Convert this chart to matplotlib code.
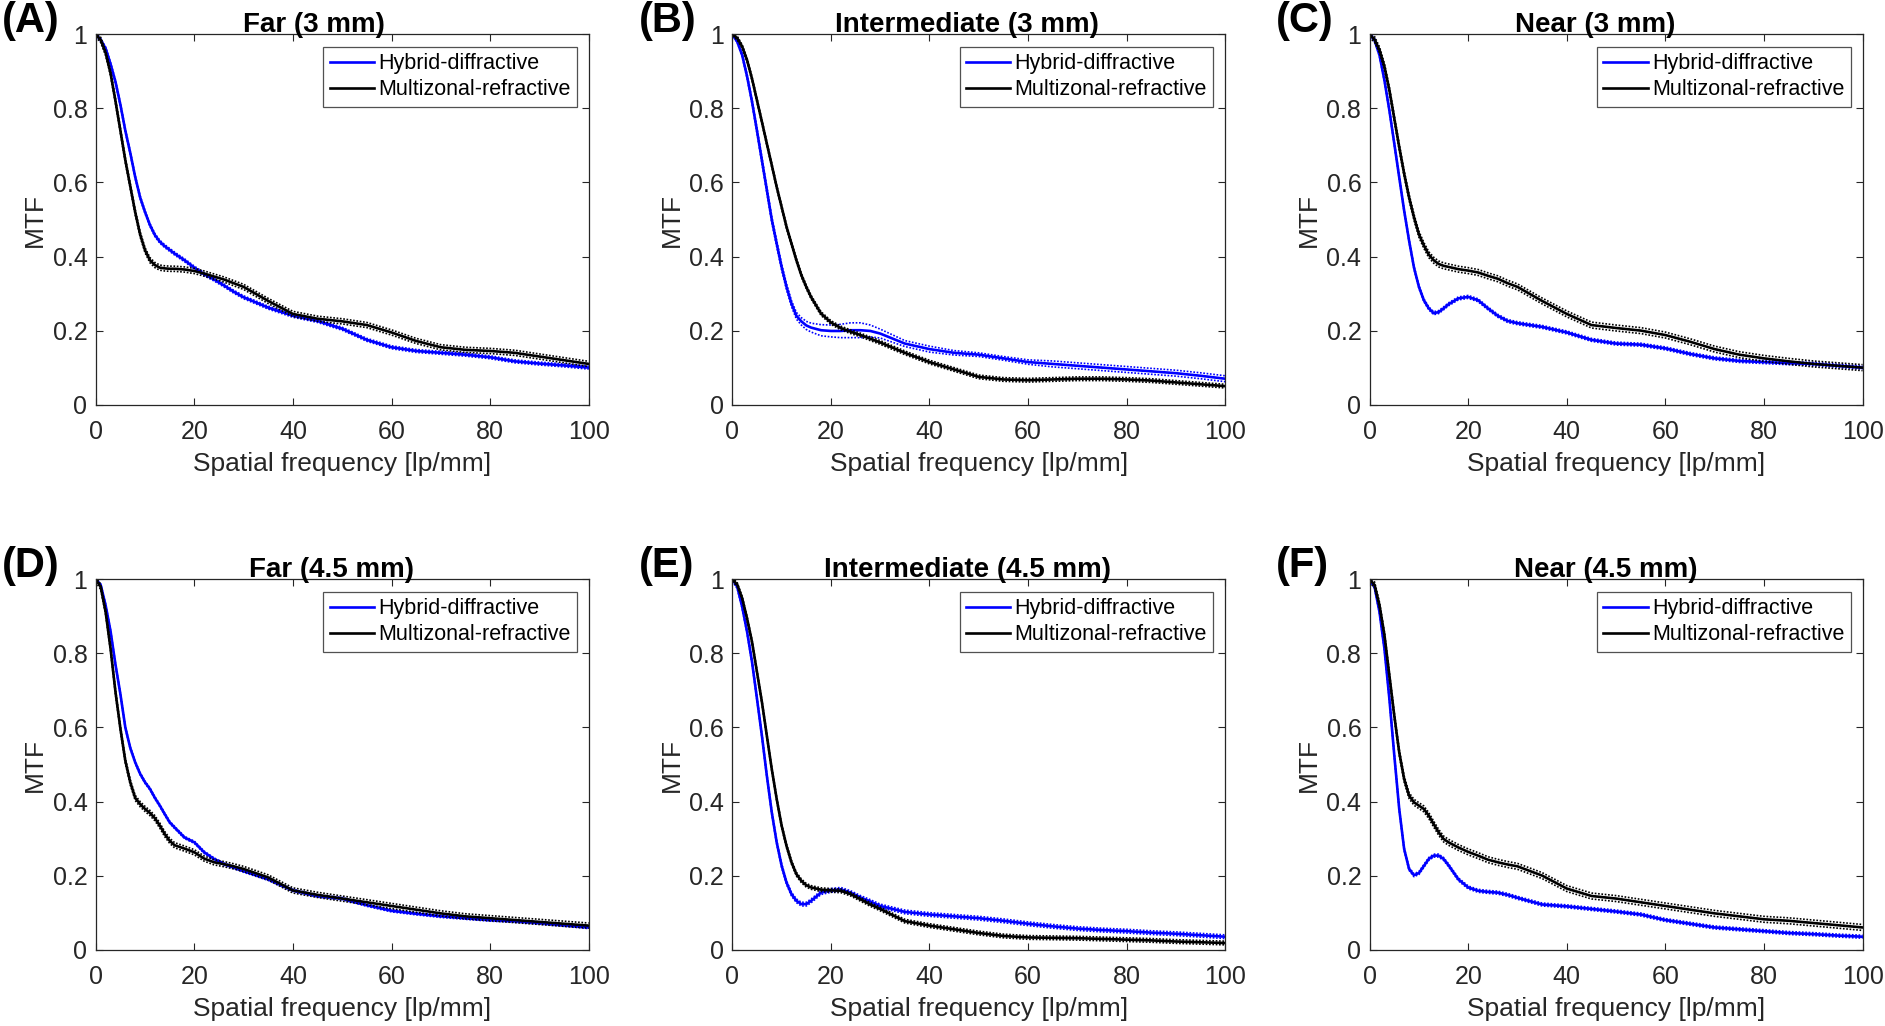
import numpy as np
import matplotlib
matplotlib.use("Agg")
import matplotlib.pyplot as plt

plt.rcParams['font.family'] = ['Liberation Sans', 'DejaVu Sans']

# spatial frequency grid [lp/mm]
freq = [0, 1, 2, 3, 4, 5, 6, 7, 8, 9, 10, 11, 12, 13, 14, 15, 16, 18, 20, 22, 24, 26, 28, 30,
        35, 40, 45, 50, 55, 60, 65, 70, 75, 80, 85, 90, 95, 100]

# (A) Far 3 mm
far3_hyb = [1.0, 0.985, 0.962, 0.92, 0.872, 0.81, 0.74, 0.68, 0.615, 0.56, 0.52, 0.485, 0.458, 0.44,
            0.428, 0.418, 0.408, 0.39, 0.37, 0.352, 0.338, 0.322, 0.305, 0.29,
            0.262, 0.24, 0.226, 0.205, 0.175, 0.155, 0.145, 0.14, 0.135, 0.128, 0.117, 0.111, 0.106, 0.10]
far3_mz = [1.0, 0.985, 0.95, 0.895, 0.82, 0.74, 0.66, 0.59, 0.52, 0.46, 0.417, 0.39, 0.377, 0.37,
           0.368, 0.367, 0.367, 0.365, 0.361, 0.354, 0.346, 0.338, 0.328, 0.318,
           0.28, 0.245, 0.232, 0.225, 0.215, 0.195, 0.172, 0.155, 0.148, 0.145, 0.14, 0.13, 0.12, 0.11]
# (B) Intermediate 3 mm
int3_hyb = [1.0, 0.98, 0.944, 0.886, 0.818, 0.74, 0.66, 0.58, 0.50, 0.435, 0.372, 0.318, 0.273, 0.24,
            0.225, 0.214, 0.208, 0.201, 0.199, 0.199, 0.201, 0.201, 0.199, 0.192,
            0.165, 0.15, 0.14, 0.135, 0.125, 0.115, 0.11, 0.105, 0.10, 0.095, 0.09, 0.085, 0.078, 0.07]
int3_mz = [1.0, 0.99, 0.967, 0.93, 0.88, 0.822, 0.764, 0.705, 0.647, 0.588, 0.534, 0.48, 0.435, 0.39,
           0.35, 0.318, 0.29, 0.246, 0.222, 0.207, 0.197, 0.188, 0.178, 0.168,
           0.14, 0.115, 0.095, 0.075, 0.068, 0.066, 0.068, 0.07, 0.07, 0.068, 0.065, 0.06, 0.055, 0.05]
# (C) Near 3 mm
near3_hyb = [1.0, 0.985, 0.944, 0.876, 0.795, 0.705, 0.614, 0.524, 0.443, 0.37, 0.318, 0.282, 0.26, 0.247,
             0.25, 0.26, 0.271, 0.287, 0.291, 0.282, 0.26, 0.24, 0.226, 0.22,
             0.21, 0.195, 0.175, 0.165, 0.162, 0.152, 0.137, 0.125, 0.118, 0.115, 0.112, 0.11, 0.105, 0.10]
near3_mz = [1.0, 0.986, 0.958, 0.913, 0.85, 0.773, 0.696, 0.624, 0.56, 0.506, 0.46, 0.43, 0.405, 0.39,
            0.38, 0.375, 0.372, 0.366, 0.362, 0.357, 0.348, 0.34, 0.328, 0.318,
            0.28, 0.245, 0.215, 0.207, 0.20, 0.188, 0.17, 0.15, 0.135, 0.125, 0.117, 0.11, 0.105, 0.10]
# (D) Far 4.5 mm
far45_hyb = [1.0, 0.985, 0.93, 0.86, 0.77, 0.69, 0.60, 0.545, 0.506, 0.475, 0.452, 0.434, 0.41, 0.389,
             0.366, 0.344, 0.33, 0.303, 0.29, 0.263, 0.245, 0.231, 0.222, 0.212,
             0.19, 0.16, 0.145, 0.138, 0.12, 0.105, 0.097, 0.09, 0.085, 0.08, 0.077, 0.072, 0.066, 0.06]
far45_mz = [1.0, 0.98, 0.912, 0.813, 0.696, 0.597, 0.51, 0.452, 0.41, 0.393, 0.38, 0.369, 0.355, 0.335,
            0.312, 0.294, 0.282, 0.273, 0.263, 0.246, 0.236, 0.231, 0.225, 0.218,
            0.195, 0.16, 0.148, 0.138, 0.128, 0.118, 0.108, 0.098, 0.09, 0.085, 0.08, 0.075, 0.07, 0.065]
# (E) Intermediate 4.5 mm
int45_hyb = [1.0, 0.98, 0.926, 0.858, 0.777, 0.678, 0.578, 0.47, 0.371, 0.29, 0.227, 0.181, 0.15, 0.132,
             0.123, 0.123, 0.132, 0.154, 0.16, 0.163, 0.154, 0.141, 0.13, 0.118,
             0.102, 0.095, 0.09, 0.085, 0.078, 0.07, 0.063, 0.057, 0.053, 0.05, 0.046, 0.043, 0.039, 0.035]
int45_mz = [1.0, 0.986, 0.949, 0.894, 0.831, 0.75, 0.669, 0.578, 0.488, 0.407, 0.335, 0.28, 0.236, 0.204,
            0.186, 0.174, 0.168, 0.162, 0.16, 0.159, 0.15, 0.136, 0.122, 0.11,
            0.077, 0.065, 0.055, 0.045, 0.037, 0.033, 0.032, 0.031, 0.029, 0.027, 0.025, 0.022, 0.02, 0.018]
# (F) Near 4.5 mm
near45_hyb = [1.0, 0.98, 0.912, 0.813, 0.678, 0.525, 0.38, 0.272, 0.218, 0.201, 0.207, 0.226, 0.245, 0.254,
              0.254, 0.245, 0.228, 0.19, 0.168, 0.159, 0.156, 0.154, 0.148, 0.14,
              0.122, 0.117, 0.11, 0.103, 0.095, 0.08, 0.07, 0.06, 0.055, 0.05, 0.045, 0.042, 0.038, 0.035]
near45_mz = [1.0, 0.985, 0.93, 0.85, 0.741, 0.632, 0.533, 0.461, 0.416, 0.398, 0.389, 0.38, 0.362, 0.339,
             0.317, 0.299, 0.29, 0.276, 0.264, 0.254, 0.243, 0.236, 0.23, 0.225,
             0.20, 0.165, 0.145, 0.138, 0.128, 0.118, 0.108, 0.098, 0.09, 0.082, 0.078, 0.072, 0.066, 0.06]

# standard deviation bands (dotted)
int3_hyb_sd = [0, 0.002, 0.004, 0.005, 0.006, 0.007, 0.008, 0.008, 0.008, 0.008, 0.008, 0.008, 0.008, 0.009,
               0.01, 0.011, 0.012, 0.015, 0.016, 0.018, 0.02, 0.02, 0.016, 0.012,
               0.008, 0.008, 0.006, 0.005, 0.005, 0.006, 0.008, 0.008, 0.008, 0.008, 0.008, 0.008, 0.008, 0.008]
sd_hyb = [0.004, int3_hyb_sd, 0.004, 0.003, 0.005, 0.004]
sd_mz = [0.007, 0.005, 0.008, 0.007, 0.005, 0.008]

titles = ["Far (3 mm)", "Intermediate (3 mm)", "Near (3 mm)",
          "Far (4.5 mm)", "Intermediate (4.5 mm)", "Near (4.5 mm)"]
letters = ["(A)", "(B)", "(C)", "(D)", "(E)", "(F)"]
title_x = [0.442, 0.476, 0.457, 0.478, 0.478, 0.478]
hyb_all = [far3_hyb, int3_hyb, near3_hyb, far45_hyb, int45_hyb, near45_hyb]
mz_all = [far3_mz, int3_mz, near3_mz, far45_mz, int45_mz, near45_mz]

fig = plt.figure(figsize=(18.85, 10.26), dpi=100)
lefts = [0.0508, 0.3885, 0.7266]
bottoms = [0.6056, 0.0744]
w, h = 0.2615, 0.3609
fc = '#262626'

x = np.array(freq)
for i in range(6):
    r, c = divmod(i, 3)
    ax = fig.add_axes([lefts[c], bottoms[r], w, h])
    for y, sd, col, lab in [(hyb_all[i], sd_hyb[i], 'blue', 'Hybrid-diffractive'),
                            (mz_all[i], sd_mz[i], 'black', 'Multizonal-refractive')]:
        y = np.array(y)
        sd = np.asarray(sd)
        ax.plot(x, y + sd, color=col, ls=(0, (1, 1)), lw=1.2)
        ax.plot(x, y - sd, color=col, ls=(0, (1, 1)), lw=1.2)
        ax.plot(x, y, color=col, lw=1.9, label=lab)
    ax.set_xlim(0, 100)
    ax.set_ylim(0, 1)
    ax.set_xticks(range(0, 101, 20))
    ax.set_yticks([0, 0.2, 0.4, 0.6, 0.8, 1])
    ax.set_yticklabels(["0", "0.2", "0.4", "0.6", "0.8", "1"])
    ax.tick_params(axis='both', direction='in', top=True, right=True, length=5,
                   width=0.8, colors=fc, labelsize=18)
    ax.tick_params(axis='x', pad=11)
    ax.tick_params(axis='y', pad=6)
    for s in ax.spines.values():
        s.set_color(fc)
        s.set_linewidth(0.9)
    ax.set_xlabel("Spatial frequency [lp/mm]", fontsize=19, color=fc, labelpad=6)
    ax.set_ylabel("MTF", fontsize=19, color=fc, labelpad=4)
    handles, labels = ax.get_legend_handles_labels()
    leg = ax.legend(handles, labels, loc='upper right', bbox_to_anchor=(0.976, 0.967),
                    borderaxespad=0, fontsize=15.5, frameon=True, fancybox=False,
                    edgecolor=fc, handlelength=2.05, handletextpad=0.2,
                    labelspacing=0.25, borderpad=0.3)
    leg.get_frame().set_linewidth(0.9)
    ax.set_title(titles[i], fontsize=20, fontweight='bold', x=title_x[i], pad=2)
    fig.text(lefts[c] - 0.0497, bottoms[r] + h + 0.033, letters[i], fontsize=30,
             fontweight='bold', ha='left', va='top')

fig.savefig("out.png", dpi=100, facecolor='white')
